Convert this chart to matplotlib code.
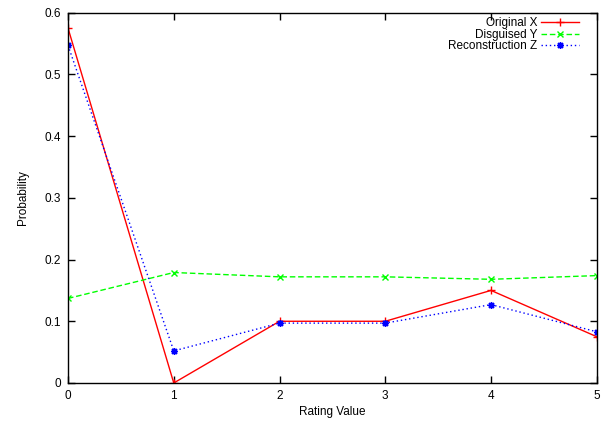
import matplotlib
matplotlib.use('Agg')
import matplotlib.pyplot as plt

plt.rcParams['font.family'] = ['Liberation Sans', 'DejaVu Sans']

# Rating values and probabilities
ratings = [0, 1, 2, 3, 4, 5]
original_x = [0.575, 0.0, 0.100, 0.100, 0.150, 0.075]
disguised_y = [0.137, 0.179, 0.172, 0.172, 0.168, 0.174]
reconstruction_z = [0.547, 0.052, 0.097, 0.097, 0.127, 0.083]

fig = plt.figure(figsize=(6.04, 4.23), dpi=100)
ax = fig.add_axes([0.1126, 0.0946, 0.8754, 0.8754])

ax.plot(ratings, original_x, color='#ff0000', lw=1, marker='+', ms=6,
        mew=1, label='Original X')
ax.plot(ratings, disguised_y, color='#00ff00', lw=1, ls=(0, (4, 2)),
        marker='x', ms=5, mew=1, label='Disguised Y')
ax.plot(ratings, reconstruction_z, color='#0000ff', lw=1, ls=(0, (1, 2)),
        marker=(8, 2, 0), ms=5, mew=1, label='Reconstruction Z')

ax.set_xlim(0, 5)
ax.set_ylim(0, 0.6)
ax.set_xticks(ratings)
ax.set_yticks([0, 0.1, 0.2, 0.3, 0.4, 0.5, 0.6])
ax.set_yticklabels(['0', '0.1', '0.2', '0.3', '0.4', '0.5', '0.6'])
ax.tick_params(direction='in', top=True, right=True, labelsize=8.5,
               length=5, width=1, pad=5)
for s in ax.spines.values():
    s.set_linewidth(1)

ax.set_xlabel('Rating Value', fontsize=8.5, labelpad=3)
ax.set_ylabel('Probability', fontsize=8.5, labelpad=11)

ax.legend(loc='upper right', bbox_to_anchor=(0.975, 1.0), borderaxespad=0,
          frameon=False, markerfirst=False, fontsize=8.5,
          handlelength=3.2, handletextpad=0.3, labelspacing=-0.05)

fig.savefig('out.png', dpi=100)
